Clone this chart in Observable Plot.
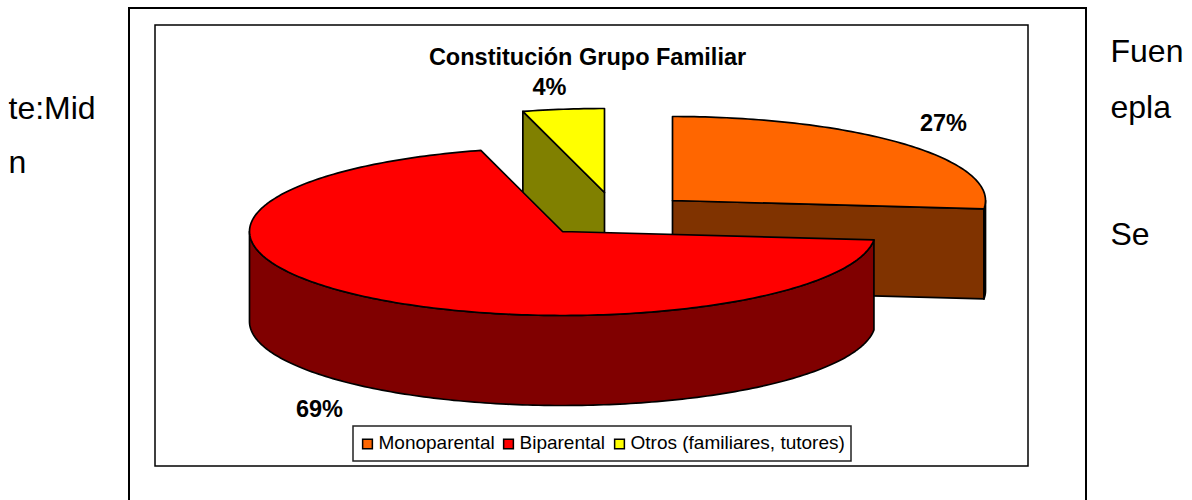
<!DOCTYPE html>
<html>
<head>
<meta charset="utf-8">
<script src="https://cdn.jsdelivr.net/npm/d3@7"></script>
<script src="https://cdn.jsdelivr.net/npm/@observablehq/plot@0.6"></script>
<style>html,body{margin:0;padding:0;background:#fff;overflow:hidden}svg{display:block}</style>
</head>
<body>
<div id="chart"></div>
<script>
const title = "Constitución Grupo Familiar";
const categories = ["Monoparental", "Biparental", "Otros (familiares, tutores)"];
const shares = [26.6, 69.2, 4.2];
const topColors = ["#ff6600", "#ff0000", "#ffff00"];
const wallColors = ["#803300", "#800000", "#808000"];
const sideLines = ["Fuen", "epla", "Se"];
const leftLines = ["te:Mid", "n"];

// Layout of the drawing (screen-like chart units)
const rx = 313, ry = 84, depth = 90;
const centers = [{x: 672, y: 200}, {x: 562, y: 231}, {x: 604, y: 192}];
const labelPos = [{x: 943, y: 123}, {x: 319, y: 409}, {x: 549, y: 87}];
const swatchX = [367, 508, 619];
const legendTextX = [378, 519, 630];

const sum = d3.sum(shares);
let acc = 0;
const slices = shares.map((v, i) => {
  const a = acc / sum * 360; acc += v;
  const b = acc / sum * 360;
  return {i, a, b, c: centers[i]};
});
const pt = (c, deg, dz = 0) => {
  const t = deg * Math.PI / 180;
  return {x: c.x + rx * Math.sin(t), y: c.y - ry * Math.cos(t) + dz};
};
const arc = (c, a, b, dz = 0) => {
  const n = Math.max(2, Math.ceil(Math.abs(b - a)));
  return d3.range(n + 1).map(k => pt(c, a + (b - a) * k / n, dz));
};
const poly = (pts, fill) => Plot.line([...pts, pts[0]], {x: "x", y: "y", fill, stroke: "#000", strokeWidth: 1.7, curve: "linear", strokeLinejoin: "round"});

const shapes = [];
// back-to-front: Otros, Monoparental, Biparental
for (const i of [2, 0, 1]) {
  const s = slices[i], c = s.c;
  if (i === 2) {
    const p = pt(c, s.a);
    shapes.push(poly([c, p, {x: p.x, y: p.y + depth}, {x: c.x, y: c.y + depth}], wallColors[i]));
  }
  if (i === 0) {
    const p = pt(c, s.b);
    shapes.push(poly([c, p, {x: p.x, y: p.y + depth}, {x: c.x, y: c.y + depth}], wallColors[i]));
  }
  const wa = Math.max(s.a, 90), wb = Math.min(s.b, 270);
  if (wb > wa) {
    shapes.push(poly([...arc(c, wa, wb), ...arc(c, wb, wa, depth)], wallColors[i]));
  }
  shapes.push(poly([c, ...arc(c, s.a, s.b)], topColors[i]));
}

const font = "Liberation Sans";
const sideRows = [
  {t: sideLines[0], x: 1110, y: 51}, {t: sideLines[1], x: 1110, y: 107}, {t: sideLines[2], x: 1110, y: 234},
  {t: leftLines[0], x: 8, y: 108}, {t: leftLines[1], x: 8, y: 162}
];
const boxes = [
  {x1: 129, x2: 1086, y1: 8, y2: 520, sw: 2, st: "#000"},
  {x1: 155, x2: 1028, y1: 25, y2: 466, sw: 1.5, st: "#000"},
  {x1: 353, x2: 851, y1: 426, y2: 461, sw: 1.5, st: "#222"}
];

const plot = Plot.plot({
  width: 1192, height: 500,
  marginTop: 0, marginRight: 0, marginBottom: 0, marginLeft: 0,
  x: {domain: [0, 1192], range: [0, 1192], axis: null},
  y: {domain: [0, 500], range: [0, 500], axis: null},
  style: {background: "#fff"},
  marks: [
    Plot.rect(boxes, {x1: "x1", x2: "x2", y1: "y1", y2: "y2", fill: "none", stroke: "st", strokeWidth: "sw"}),
    ...shapes,
    Plot.text([title], {x: [587], y: [57], text: d => d, fontFamily: font, fontWeight: "bold", fontSize: 23.5, fill: "#000"}),
    Plot.text(shares, {x: (d, i) => labelPos[i].x, y: (d, i) => labelPos[i].y, text: d => Math.round(d) + "%", fontFamily: font, fontWeight: "bold", fontSize: 23.5, fill: "#000"}),
    Plot.dot(categories, {x: (d, i) => swatchX[i], y: () => 443.5, r: 5.5, symbol: "square", fill: (d, i) => topColors[i], stroke: "#000", strokeWidth: 1.5}),
    Plot.text(categories, {x: (d, i) => legendTextX[i], y: () => 442.5, text: d => d, textAnchor: "start", fontFamily: font, fontSize: 19, fill: "#000"}),
    Plot.text(sideRows, {x: "x", y: "y", text: "t", textAnchor: "start", fontFamily: font, fontSize: 32, fill: "#000"})
  ]
});
document.getElementById("chart").append(plot);
</script>
</body>
</html>
